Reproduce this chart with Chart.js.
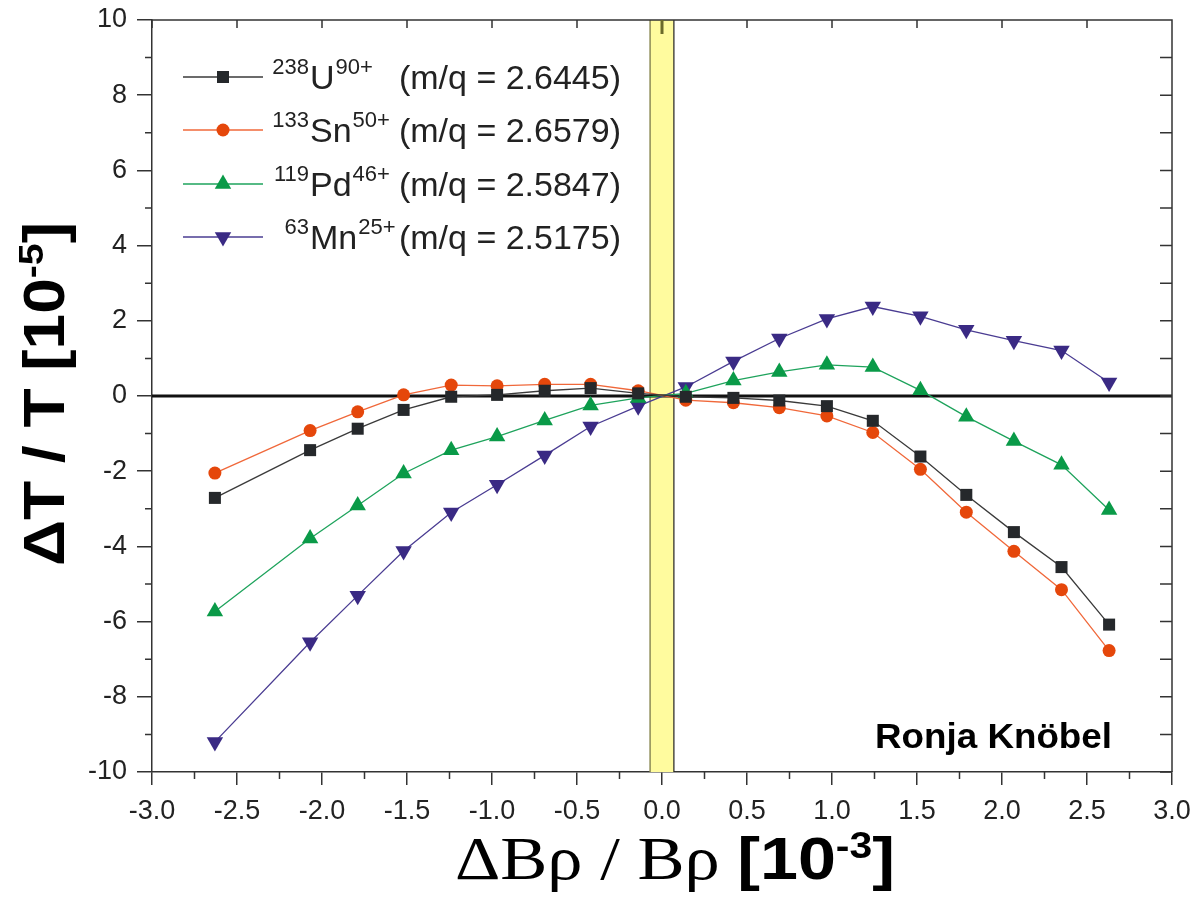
<!DOCTYPE html>
<html><head><meta charset="utf-8">
<script src="https://cdn.jsdelivr.net/npm/chart.js@4.4.1/dist/chart.umd.min.js"></script>
<style>html,body{margin:0;padding:0;background:#fff}#wrap{width:1196px;height:917px;position:relative}</style>
</head><body><div id="wrap"><canvas id="c"></canvas></div>
<script>
// ---- data ----
const xValues = [-2.63, -2.07, -1.79, -1.52, -1.24, -0.97, -0.69, -0.42, -0.14, 0.14, 0.42, 0.69, 0.97, 1.24, 1.52, 1.79, 2.07, 2.35, 2.63];
const seriesU  = [-2.71, -1.44, -0.87, -0.37, -0.02, 0.03, 0.14, 0.21, 0.07, -0.02, -0.05, -0.12, -0.27, -0.66, -1.61, -2.63, -3.62, -4.55, -6.08];
const seriesSn = [-2.05, -0.92, -0.42, 0.03, 0.29, 0.27, 0.31, 0.31, 0.14, -0.11, -0.18, -0.31, -0.53, -0.97, -1.95, -3.09, -4.13, -5.15, -6.77];
const seriesPd = [-5.73, -3.79, -2.91, -2.06, -1.44, -1.08, -0.65, -0.25, -0.05, 0.07, 0.41, 0.64, 0.83, 0.77, 0.15, -0.55, -1.20, -1.83, -3.03];
const seriesMn = [-9.20, -6.55, -5.31, -4.12, -3.10, -2.36, -1.58, -0.81, -0.27, 0.24, 0.92, 1.53, 2.05, 2.38, 2.12, 1.76, 1.47, 1.21, 0.36];
const legendMass   = ['238', '133', '119', '63'];
const legendElem   = ['U', 'Sn', 'Pd', 'Mn'];
const legendCharge = ['90+', '50+', '46+', '25+'];
const legendMQ     = ['(m/q = 2.6445)', '(m/q = 2.6579)', '(m/q = 2.5847)', '(m/q = 2.5175)'];
const xTicks = [-3.0, -2.5, -2.0, -1.5, -1.0, -0.5, 0.0, 0.5, 1.0, 1.5, 2.0, 2.5, 3.0];
const xMinorTicks = [-2.75, -2.25, -1.75, -1.25, -0.75, -0.25, 0.25, 0.75, 1.25, 1.75, 2.25, 2.75];
const yTicks = [-10, -8, -6, -4, -2, 0, 2, 4, 6, 8, 10];
const yMinorTicks = [-9, -7, -5, -3, -1, 1, 3, 5, 7, 9];
const bandRange = [-0.07, 0.07];
const credit = 'Ronja Knöbel';

const ink = '#333';
const SANS = "'Liberation Sans', Arial, Helvetica, sans-serif";
const SERIF = "'Liberation Serif', 'Times New Roman', serif";

const styles = [
  {line:'#3a3a3a', fill:'#25282b', point:'rect', r:8.5, rot:0},
  {line:'#f0683a', fill:'#e5470b', point:'circle', r:6.5, rot:0},
  {line:'#1ea35c', fill:'#0a9a48', point:'triangle', r:9.5, rot:0},
  {line:'#4a3c92', fill:'#3a2a84', point:'triangle', r:9.5, rot:180}
];
const allSeries = [seriesU, seriesSn, seriesPd, seriesMn];

function pts(ys){ return xValues.map((x,i)=>({x:x, y:ys[i]})); }

const datasets = allSeries.map((s,i)=>({
  label: legendElem[i],
  data: pts(s),
  showLine: true,
  borderColor: styles[i].line,
  borderWidth: 1.3,
  backgroundColor: styles[i].fill,
  pointBackgroundColor: styles[i].fill,
  pointBorderColor: styles[i].fill,
  pointBorderWidth: 0,
  pointStyle: styles[i].point,
  pointRotation: styles[i].rot,
  pointRadius: styles[i].r,
  tension: 0
}));

function drawMarker(ctx, st, x, y){
  const r = st.r;
  ctx.fillStyle = st.fill;
  ctx.beginPath();
  if (st.point === 'rect') {
    const h = r*Math.SQRT1_2; ctx.rect(x-h, y-h, 2*h, 2*h);
  } else if (st.point === 'circle') {
    ctx.arc(x, y, r, 0, Math.PI*2);
  } else {
    const s = st.rot === 180 ? -1 : 1;
    ctx.moveTo(x, y - s*r);
    ctx.lineTo(x + r*0.866, y + s*r/2);
    ctx.lineTo(x - r*0.866, y + s*r/2);
    ctx.closePath();
  }
  ctx.fill();
}

function partsWidth(ctx, parts){
  let w = 0; for (const p of parts){ ctx.font = p[1]; w += ctx.measureText(p[0]).width; } return w;
}
function drawParts(ctx, parts, x, y, sx){
  let cx = 0;
  ctx.save(); ctx.translate(x, y); ctx.scale(sx, 1);
  for (const p of parts){ ctx.font = p[1]; ctx.fillText(p[0], cx, -(p[2]||0)); cx += ctx.measureText(p[0]).width; }
  ctx.restore();
}

const decor = {
  id: 'decor',
  beforeDatasetsDraw(chart){
    const {ctx, chartArea:a, scales:{x, y}} = chart;
    ctx.save();
    const x0 = x.getPixelForValue(bandRange[0]), x1 = x.getPixelForValue(bandRange[1]);
    ctx.fillStyle = '#fffb9e';
    ctx.fillRect(x0, a.top, x1-x0, a.bottom-a.top);
    ctx.lineWidth = 1.5; ctx.strokeStyle = '#8d8b55';
    ctx.beginPath(); ctx.moveTo(x0, a.top); ctx.lineTo(x0, a.bottom); ctx.stroke();
    ctx.lineWidth = 1.2; ctx.strokeStyle = '#222';
    ctx.beginPath(); ctx.moveTo(x1, a.top); ctx.lineTo(x1, a.bottom); ctx.stroke();
    const yz = y.getPixelForValue(0);
    ctx.lineWidth = 3; ctx.strokeStyle = '#111';
    ctx.beginPath(); ctx.moveTo(a.left, yz); ctx.lineTo(a.right, yz); ctx.stroke();
    ctx.restore();
  },
  afterDraw(chart){
    const {ctx, chartArea:a, scales:{x, y}} = chart;
    ctx.save();
    ctx.strokeStyle = ink; ctx.lineWidth = 1.5;
    ctx.beginPath();
    ctx.moveTo(a.left, a.top); ctx.lineTo(a.right, a.top); ctx.lineTo(a.right, a.bottom);
    for (const v of yMinorTicks){ const p = y.getPixelForValue(v); ctx.moveTo(a.left-7, p); ctx.lineTo(a.left, p); }
    for (const v of yTicks.concat(yMinorTicks)){ const p = y.getPixelForValue(v); ctx.moveTo(a.right-12, p); ctx.lineTo(a.right, p); }
    for (const v of xMinorTicks){ const p = x.getPixelForValue(v); ctx.moveTo(p, a.bottom); ctx.lineTo(p, a.bottom+7); }
    for (const v of xTicks){ if (v===0) continue; const p = x.getPixelForValue(v); ctx.moveTo(p, a.top); ctx.lineTo(p, a.top+8); }
    ctx.stroke();
    ctx.strokeStyle = '#6b6a2a'; ctx.lineWidth = 3;
    ctx.beginPath(); const p0 = x.getPixelForValue(0); ctx.moveTo(p0, a.top); ctx.lineTo(p0, a.top+14); ctx.stroke();

    // legend
    ctx.textBaseline = 'alphabetic';
    const rows = [77, 130, 184, 237];
    for (let i=0;i<4;i++){
      const ry = rows[i], st = styles[i];
      ctx.strokeStyle = st.line; ctx.lineWidth = 1.3;
      ctx.beginPath(); ctx.moveTo(183, ry); ctx.lineTo(263, ry); ctx.stroke();
      drawMarker(ctx, st, 223, ry);
      ctx.fillStyle = '#222';
      const base = ry + 12;
      ctx.font = '22px ' + SANS; ctx.textAlign = 'right';
      ctx.fillText(legendMass[i], 309, base - 15);
      ctx.textAlign = 'left';
      ctx.font = '34px ' + SANS;
      ctx.fillText(legendElem[i], 310, base);
      const ew = ctx.measureText(legendElem[i]).width;
      ctx.font = '22px ' + SANS;
      ctx.fillText(legendCharge[i], 310 + ew + 1, base - 15);
      ctx.font = '34px ' + SANS; ctx.textAlign = 'right';
      ctx.fillText(legendMQ[i], 621, base);
      ctx.textAlign = 'left';
    }

    // credit
    ctx.fillStyle = '#000';
    ctx.font = 'bold 35px ' + SANS;
    const cw = ctx.measureText(credit).width;
    ctx.save(); ctx.translate(875, 748); ctx.scale(237/cw, 1); ctx.fillText(credit, 0, 0); ctx.restore();

    // x title
    const xParts = [
      ['ΔBρ / Bρ ', '62px ' + SERIF, 0],
      ['[10', 'bold 60px ' + SANS, 0],
      ['-3', 'bold 36px ' + SANS, 21],
      [']', 'bold 60px ' + SANS, 0]
    ];
    ctx.fillStyle = '#000';
    const xw = partsWidth(ctx, xParts);
    drawParts(ctx, xParts, 455, 879, 440/xw);

    // y title
    const yParts = [
      ['ΔT / T [10', 'bold 57px ' + SANS, 0],
      ['-5', 'bold 35px ' + SANS, 21],
      [']', 'bold 57px ' + SANS, 0]
    ];
    const yw = partsWidth(ctx, yParts);
    ctx.save(); ctx.translate(64, 566); ctx.rotate(-Math.PI/2);
    drawParts(ctx, yParts, 0, 0, 344/yw);
    ctx.restore();

    ctx.restore();
  }
};

new Chart(document.getElementById('c'), {
  type: 'scatter',
  data: { datasets },
  options: {
    responsive: true, maintainAspectRatio: false, animation: false, devicePixelRatio: 1,
    layout: { padding: { top: 20, right: 24, left: 0, bottom: 0 } },
    plugins: { legend: { display: false }, tooltip: { enabled: false } },
    scales: {
      x: {
        type: 'linear', min: -3, max: 3,
        afterBuildTicks: s => { s.ticks = xTicks.map(v => ({value: v})); },
        afterFit: s => { s.height = 145; s.paddingLeft = 0; s.paddingRight = 0; },
        ticks: { callback: v => Number(v).toFixed(1), font: { family: SANS, size: 27 }, color: '#222', padding: 10, maxRotation: 0, autoSkip: false },
        grid: { drawOnChartArea: false, color: ink, lineWidth: 1.5, tickLength: 13 },
        border: { color: ink, width: 1.5 }
      },
      y: {
        type: 'linear', min: -10, max: 10,
        afterBuildTicks: s => { s.ticks = yTicks.map(v => ({value: v})); },
        afterFit: s => { s.width = 152; s.paddingTop = 0; s.paddingBottom = 0; },
        ticks: { callback: v => String(v), font: { family: SANS, size: 27 }, color: '#222', padding: 10, autoSkip: false },
        grid: { drawOnChartArea: false, color: ink, lineWidth: 1.5, tickLength: 15 },
        border: { color: ink, width: 1.5 }
      }
    }
  },
  plugins: [decor]
});
</script>
</body></html>
